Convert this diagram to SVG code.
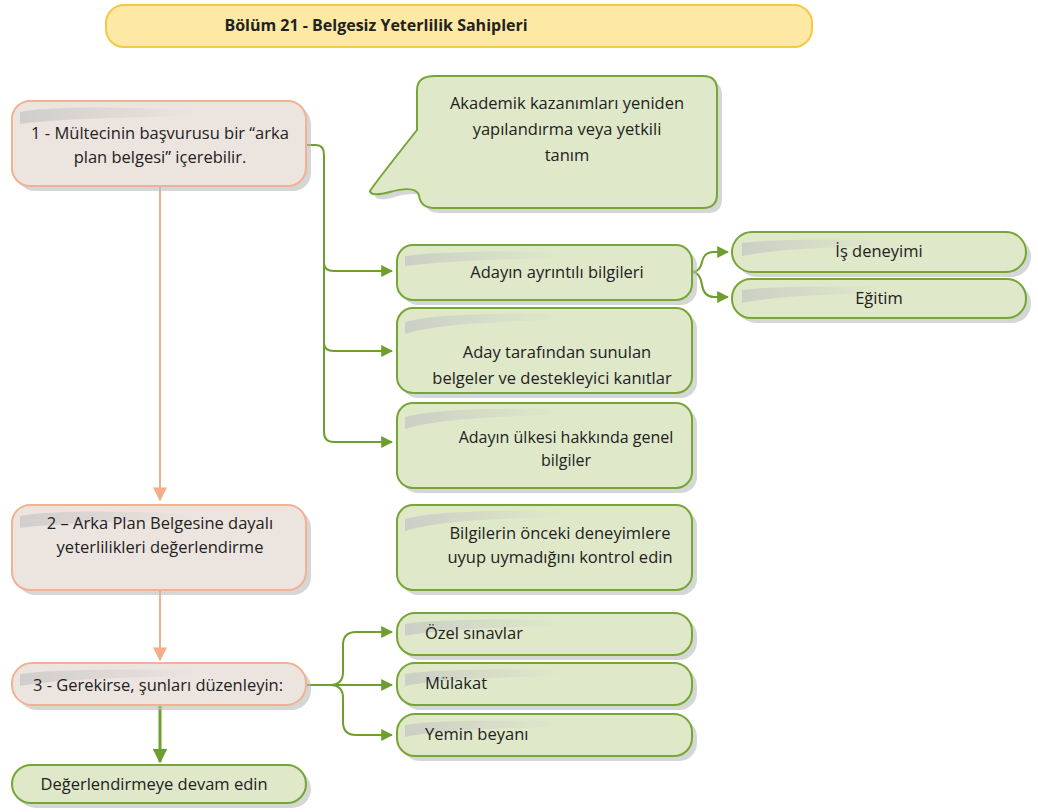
<svg xmlns="http://www.w3.org/2000/svg" width="1038" height="812" viewBox="0 0 1038 812">
<style>
text{font-family:"Open Sans","Liberation Sans","DejaVu Sans",sans-serif;fill:#222;font-size:16.5px}
.c{text-anchor:middle}
.pink{fill:#ece4df;stroke:#f2b193;stroke-width:2}
.green{fill:#dfe8c9;stroke:#76a636;stroke-width:2}
.shadow{fill:#b9bdb8;opacity:0.6}
.hl{fill:url(#hlg)}
.gl{fill:none;stroke:#6e9e30;stroke-width:2}
.pl{fill:none;stroke:#f2ad8c;stroke-width:2}
</style>
<defs>
<linearGradient id="hlg" x1="0" y1="0" x2="1" y2="0">
<stop offset="0" stop-color="#c4c4c4" stop-opacity="0.7"/>
<stop offset="1" stop-color="#c4c4c4" stop-opacity="0"/>
</linearGradient>
<marker id="ag" viewBox="0 0 10 10" refX="9" refY="5" markerWidth="12" markerHeight="12" markerUnits="userSpaceOnUse" orient="auto"><path d="M0,0 L10,5 L0,10 Z" fill="#6e9e30"/></marker>
<marker id="agb" viewBox="0 0 10 10" refX="9" refY="5" markerWidth="15" markerHeight="15" markerUnits="userSpaceOnUse" orient="auto"><path d="M0,0 L10,5 L0,10 Z" fill="#6e9e30"/></marker>
<marker id="ap" viewBox="0 0 10 10" refX="9" refY="5" markerWidth="14" markerHeight="14" markerUnits="userSpaceOnUse" orient="auto"><path d="M0,0 L10,5 L0,10 Z" fill="#f2ad8c"/></marker>
</defs>
<rect width="1038" height="812" fill="#ffffff"/>

<g id="title">
<rect x="106" y="5" width="706" height="42" rx="18" fill="#fde9a3" stroke="#f6c945" stroke-width="2"/>
<text x="376" y="31" class="c" style="font-weight:bold;font-size:16px">Bölüm 21 - Belgesiz Yeterlilik Sahipleri</text>
</g>

<g id="connectors">
<path class="gl" d="M306,145 H316 Q324,145 324,155 V263 Q324,271 334,271 H392" marker-end="url(#ag)"/>
<path class="gl" d="M324,262 V343 Q324,351 334,351 H392" marker-end="url(#ag)"/>
<path class="gl" d="M324,342 V432 Q324,442 334,442 H392" marker-end="url(#ag)"/>
<path class="pl" d="M160,186 V500" marker-end="url(#ap)"/>
<path class="pl" d="M160,590 V660" marker-end="url(#ap)"/>
<path class="gl" style="stroke-width:3" d="M160,705 V762" marker-end="url(#agb)"/>
<path class="gl" d="M306,685 H392" marker-end="url(#ag)"/>
<path class="gl" d="M330,685 Q343,685 343,672 V645 Q343,632 356,632 H392" marker-end="url(#ag)"/>
<path class="gl" d="M330,685 Q343,685 343,698 V722 Q343,735 356,735 H392" marker-end="url(#ag)"/>
<path class="gl" d="M692,272 Q700,272 702,262 Q704,252 714,252 H728" marker-end="url(#ag)"/>
<path class="gl" d="M692,272 Q700,272 702,285 Q704,297 714,297 H728" marker-end="url(#ag)"/>
</g>

<g id="node1">
<rect class="shadow" x="17" y="106" width="294" height="85" rx="18"/>
<rect class="pink" x="12" y="101" width="294" height="85" rx="18"/>
<path class="hl" d="M20,112 Q60,104 200,110 L200,116 Q60,118 20,124 Z"/>
<text x="160" y="139" class="c">1 - Mültecinin başvurusu bir “arka</text>
<text x="160" y="163" class="c">plan belgesi” içerebilir.</text>
</g>

<g id="callout">
<path class="shadow" d="M440,81 H708 Q722,81 722,95 V199 Q722,213 708,213 H440 Q425,213 424,200 Q420,190 395,197 Q376,202 375,196 Q380,188 422,135 V95 Q422,81 440,81 Z"/>
<path class="green" d="M435,76 H703 Q717,76 717,90 V194 Q717,208 703,208 H435 Q420,208 419,195 Q415,185 390,192 Q371,197 370,191 Q375,183 417,130 V90 Q417,76 435,76 Z"/>
<text x="567" y="109" class="c">Akademik kazanımları yeniden</text>
<text x="567" y="135" class="c">yapılandırma veya yetkili</text>
<text x="567" y="161" class="c">tanım</text>
</g>

<g id="node-detay">
<rect class="shadow" x="402" y="250" width="295" height="55" rx="16"/>
<rect class="green" x="397" y="245" width="295" height="55" rx="16"/>
<path class="hl" d="M405,256 Q450,250 560,252 L560,258 Q450,260 405,266 Z"/>
<text x="557" y="278" class="c">Adayın ayrıntılı bilgileri</text>
</g>

<g id="node-is">
<rect class="shadow" x="737" y="237" width="294" height="40" rx="20"/>
<rect class="green" x="732" y="232" width="294" height="40" rx="20"/>
<path class="hl" d="M742,243 Q780,238 880,240 L880,246 Q780,248 742,256 Z"/>
<text x="879" y="257" class="c">İş deneyimi</text>
</g>

<g id="node-egitim">
<rect class="shadow" x="737" y="284" width="294" height="39" rx="19"/>
<rect class="green" x="732" y="279" width="294" height="39" rx="19"/>
<path class="hl" d="M742,290 Q780,285 880,287 L880,293 Q780,295 742,303 Z"/>
<text x="879" y="304" class="c">Eğitim</text>
</g>

<g id="node-belgeler">
<rect class="shadow" x="402" y="313" width="295" height="85" rx="16"/>
<rect class="green" x="397" y="308" width="295" height="85" rx="16"/>
<path class="hl" d="M405,322 Q440,312 560,314 L560,320 Q440,322 405,334 Z"/>
<text x="557" y="358" class="c">Aday tarafından sunulan</text>
<text x="552" y="384" class="c">belgeler ve destekleyici kanıtlar</text>
</g>

<g id="node-ulke">
<rect class="shadow" x="402" y="408" width="295" height="85" rx="16"/>
<rect class="green" x="397" y="403" width="295" height="85" rx="16"/>
<path class="hl" d="M405,417 Q440,407 560,409 L560,415 Q440,417 405,429 Z"/>
<text x="566" y="443" class="c" style="font-size:16px">Adayın ülkesi hakkında genel</text>
<text x="566" y="466" class="c" style="font-size:16px">bilgiler</text>
</g>

<g id="node2">
<rect class="shadow" x="17" y="510" width="294" height="85" rx="18"/>
<rect class="pink" x="12" y="505" width="294" height="85" rx="18"/>
<path class="hl" d="M20,516 Q60,508 200,514 L200,520 Q60,522 20,528 Z"/>
<text x="160" y="529" class="c">2 – Arka Plan Belgesine dayalı</text>
<text x="160" y="553" class="c">yeterlilikleri değerlendirme</text>
</g>

<g id="node-bilgiler">
<rect class="shadow" x="402" y="510" width="295" height="85" rx="16"/>
<rect class="green" x="397" y="505" width="295" height="85" rx="16"/>
<path class="hl" d="M405,519 Q440,509 560,511 L560,517 Q440,519 405,531 Z"/>
<text x="560" y="539" class="c">Bilgilerin önceki deneyimlere</text>
<text x="560" y="563" class="c">uyup uymadığını kontrol edin</text>
</g>

<g id="node3">
<rect class="shadow" x="17" y="668" width="294" height="42" rx="20"/>
<rect class="pink" x="12" y="663" width="294" height="42" rx="20"/>
<path class="hl" d="M20,674 Q60,668 200,670 L200,676 Q60,678 20,686 Z"/>
<text x="158" y="691" class="c">3 - Gerekirse, şunları düzenleyin:</text>
</g>

<g id="node-ozel">
<rect class="shadow" x="402" y="618" width="295" height="42" rx="18"/>
<rect class="green" x="397" y="613" width="295" height="42" rx="18"/>
<path class="hl" d="M405,624 Q440,618 560,620 L560,626 Q440,628 405,636 Z"/>
<text x="425" y="639">Özel sınavlar</text>
</g>

<g id="node-mulakat">
<rect class="shadow" x="402" y="668" width="295" height="42" rx="18"/>
<rect class="green" x="397" y="663" width="295" height="42" rx="18"/>
<path class="hl" d="M405,674 Q440,668 560,670 L560,676 Q440,678 405,686 Z"/>
<text x="425" y="689">Mülakat</text>
</g>

<g id="node-yemin">
<rect class="shadow" x="402" y="719" width="295" height="42" rx="18"/>
<rect class="green" x="397" y="714" width="295" height="42" rx="18"/>
<path class="hl" d="M405,725 Q440,719 560,721 L560,727 Q440,729 405,737 Z"/>
<text x="425" y="740">Yemin beyanı</text>
</g>

<g id="node4">
<rect class="shadow" x="17" y="770" width="294" height="38" rx="19"/>
<rect class="green" x="12" y="765" width="294" height="38" rx="19"/>
<text x="154" y="790" class="c">Değerlendirmeye devam edin</text>
</g>
</svg>
